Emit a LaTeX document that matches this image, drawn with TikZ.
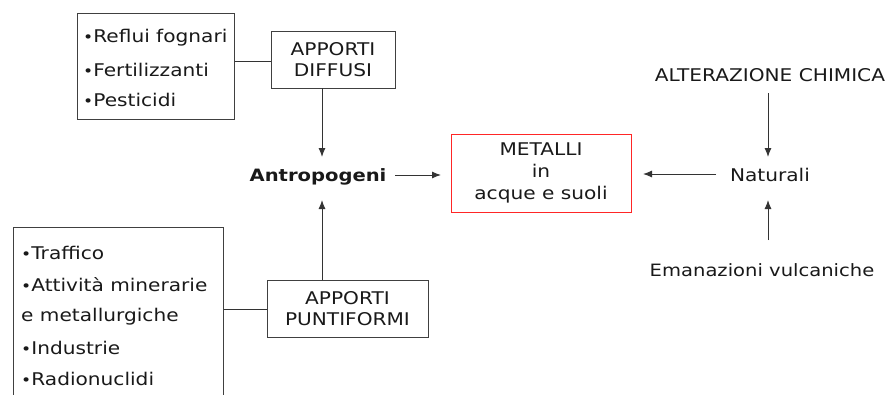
\documentclass[tikz,border=0pt]{standalone}
\usepackage{fontspec}
\setmainfont[FakeStretch=1.15]{DejaVu Sans}
\usetikzlibrary{arrows.meta}
\newcommand{\blt}{\raisebox{0.5pt}{\fontsize{15}{15}\selectfont\textbullet}}
\begin{document}
\begin{tikzpicture}[x=1pt,y=-1pt,
  fs/.style={font=\fontsize{17.5}{21}\selectfont},
  txt/.style={fs, inner sep=0pt, text=black!90},
  box/.style={draw=black!75, line width=1pt},
  con/.style={draw=black!80, line width=1pt},
  arr/.style={con, -{Latex[length=9pt,width=7pt]}}]
\clip (0,0) rectangle (886,394);
\fill[white] (0,0) rectangle (886,394);
% top-left list box
\node[box, minimum width=157pt, minimum height=106pt, inner sep=0pt] (lista) at (155.5,66) {};
\node[txt, anchor=west] (r1) at (83,38) {\blt Reflui fognari};
\node[txt, anchor=west] (r2) at (83,70) {\blt Fertilizzanti};
\node[txt, anchor=west] (r3) at (83,100) {\blt Pesticidi};
% apporti diffusi
\node[box, minimum width=124pt, minimum height=57pt, inner sep=0pt, align=center, fs, text=black!90] (diff) at (333,59.5) {APPORTI\\DIFFUSI};
% antropogeni
\node[txt, font=\fontsize{17}{21}\selectfont\bfseries] (antro) at (318,177) {Antropogeni};
% metalli
\node[draw=red!85, line width=1pt, minimum width=180pt, minimum height=78pt, inner sep=0pt, align=center, font=\fontsize{17.5}{22}\selectfont, text=black!90] (met) at (541,173) {METALLI\\in\\acque e suoli};
% naturali
\node[txt] (nat) at (770,175) {Naturali};
\node[txt] (alt) at (770,75) {ALTERAZIONE CHIMICA};
\node[txt, font=\fontsize{17}{21}\selectfont] (ema) at (762,270) {Emanazioni vulcaniche};
% bottom-left list box
\node[box, minimum width=210pt, minimum height=200pt, inner sep=0pt] (lista2) at (118,327) {};
\node[txt, anchor=west] (s1) at (21,253) {\blt Traffico};
\node[txt, anchor=west] (s2) at (21,285) {\blt Attività minerarie};
\node[txt, anchor=west] (s3) at (21,317) {e metallurgiche};
\node[txt, anchor=west] (s4) at (21,348) {\blt Industrie};
\node[txt, anchor=west] (s5) at (21,379) {\blt Radionuclidi};
% apporti puntiformi
\node[box, minimum width=161pt, minimum height=57pt, inner sep=0pt, align=center, fs, text=black!90] (punt) at (347.5,308.5) {APPORTI\\PUNTIFORMI};
% connectors
\coordinate (c1) at (322,88);
\coordinate (c2) at (322,157);
\coordinate (c3) at (322,280);
\coordinate (c4) at (322,200);
\draw[con] (lista.east |- 0,61) -- (diff.west |- 0,61);
\draw[arr] (c1) -- (c2);
\draw[arr] (c3) -- (c4);
\draw[con] (lista2.east |- 0,309) -- (punt.west |- 0,309);
\coordinate (a1) at (395,175);
\draw[arr] (a1) -- (441,175);
\coordinate (a2) at (716,174);
\draw[arr] (a2) -- (643,174);
\coordinate (n1) at (768,93);
\coordinate (n2) at (768,157);
\coordinate (n3) at (768,240);
\coordinate (n4) at (768,200);
\draw[arr] (n1) -- (n2);
\draw[arr] (n3) -- (n4);
\end{tikzpicture}
\end{document}
